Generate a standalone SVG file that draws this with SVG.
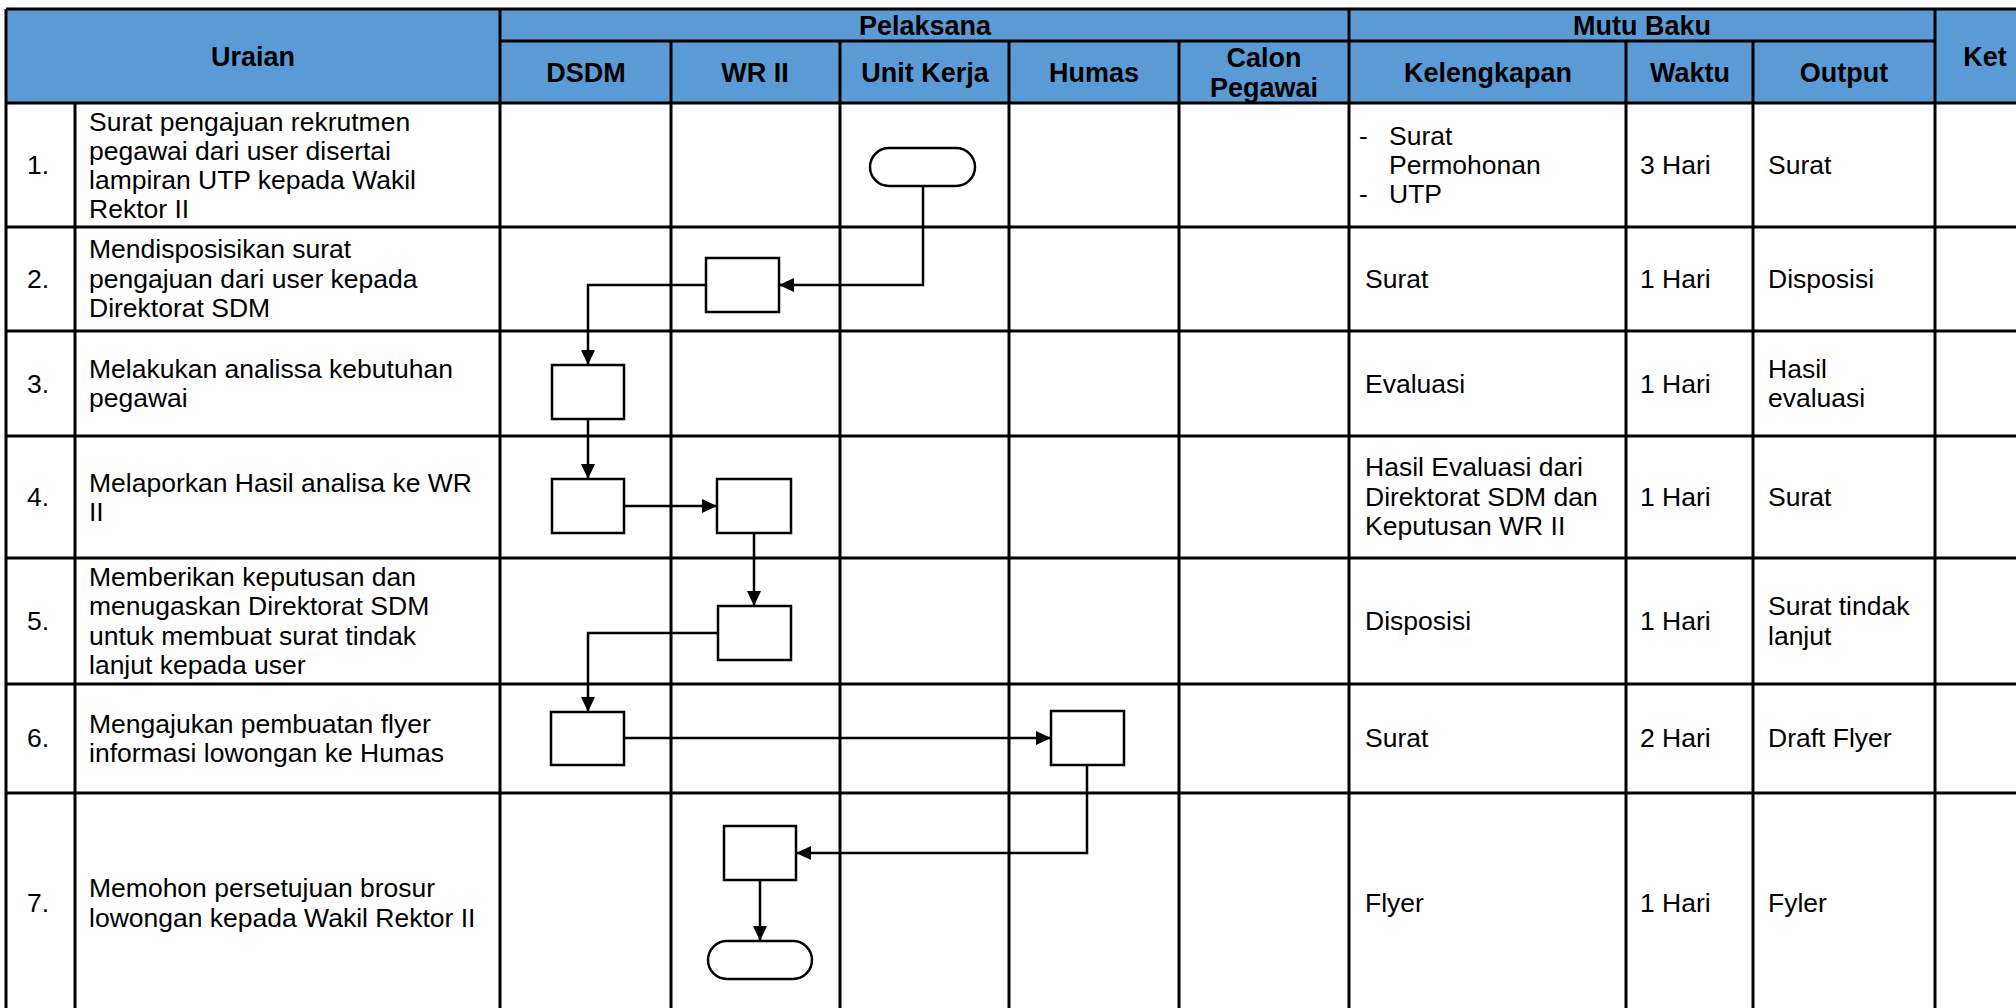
<svg xmlns="http://www.w3.org/2000/svg" width="2016" height="1008" viewBox="0 0 2016 1008">
<style>
.grid{stroke:#000;stroke-width:3;fill:none}
.hdr{fill:#5B9BD5}
.th{font-family:"Liberation Sans",Arial,sans-serif;font-size:27px;font-weight:bold;fill:#000;text-anchor:middle}
.td{font-family:"Liberation Sans",Arial,sans-serif;font-size:26.5px;fill:#000}
.box{fill:#fff;stroke:#000;stroke-width:2.5}
.con{fill:none;stroke:#000;stroke-width:2.5}
</style>
<defs>
<marker id="arr" markerUnits="userSpaceOnUse" markerWidth="15" markerHeight="14" refX="15" refY="7" orient="auto">
<path d="M0,0 L15,7 L0,14 z" fill="#000"/>
</marker>
</defs>
<rect width="2016" height="1008" fill="#fff"/>
<g id="table">
<rect class="hdr" x="6" y="9" width="2030" height="94"/>
<path class="grid" d="M6,9 H2036 M500,41 H1935 M6,103 H2036 M6,227 H2036 M6,331 H2036 M6,436 H2036 M6,558 H2036 M6,684 H2036 M6,793 H2036"/>
<path class="grid" d="M6,9 V1015 M75,103 V1015 M500,9 V1015 M671,41 V1015 M840,41 V1015 M1009,41 V1015 M1179,41 V1015 M1349,9 V1015 M1626,41 V1015 M1753,41 V1015 M1935,9 V1015"/>
<text class="th" x="253" y="66">Uraian</text>
<text class="th" x="925" y="35">Pelaksana</text>
<text class="th" x="1642" y="35">Mutu Baku</text>
<text class="th" x="1985" y="66">Ket</text>
<text class="th" x="586" y="82">DSDM</text>
<text class="th" x="755" y="82">WR II</text>
<text class="th" x="925" y="82">Unit Kerja</text>
<text class="th" x="1094" y="82">Humas</text>
<text class="th" x="1264" y="67">Calon</text>
<text class="th" x="1264" y="97">Pegawai</text>
<text class="th" x="1488" y="82">Kelengkapan</text>
<text class="th" x="1690" y="82">Waktu</text>
<text class="th" x="1844" y="82">Output</text>
</g>
<g id="uraian">
<text class="td" x="27" y="174">1.</text>
<text class="td" x="89" y="131">Surat pengajuan rekrutmen</text>
<text class="td" x="89" y="160">pegawai dari user disertai</text>
<text class="td" x="89" y="189">lampiran UTP kepada Wakil</text>
<text class="td" x="89" y="218">Rektor II</text>
<text class="td" x="27" y="288">2.</text>
<text class="td" x="89" y="258">Mendisposisikan surat</text>
<text class="td" x="89" y="288">pengajuan dari user kepada</text>
<text class="td" x="89" y="317">Direktorat SDM</text>
<text class="td" x="27" y="393">3.</text>
<text class="td" x="89" y="378">Melakukan analissa kebutuhan</text>
<text class="td" x="89" y="407">pegawai</text>
<text class="td" x="27" y="506">4.</text>
<text class="td" x="89" y="492">Melaporkan Hasil analisa ke WR</text>
<text class="td" x="89" y="521">II</text>
<text class="td" x="27" y="630">5.</text>
<text class="td" x="89" y="586">Memberikan keputusan dan</text>
<text class="td" x="89" y="615">menugaskan Direktorat SDM</text>
<text class="td" x="89" y="645">untuk membuat surat tindak</text>
<text class="td" x="89" y="674">lanjut kepada user</text>
<text class="td" x="27" y="747">6.</text>
<text class="td" x="89" y="733">Mengajukan pembuatan flyer</text>
<text class="td" x="89" y="762">informasi lowongan ke Humas</text>
<text class="td" x="27" y="912">7.</text>
<text class="td" x="89" y="897">Memohon persetujuan brosur</text>
<text class="td" x="89" y="927">lowongan kepada Wakil Rektor II</text>
</g>
<g id="mutu">
<text class="td" x="1359" y="145">-</text>
<text class="td" x="1389" y="145">Surat</text>
<text class="td" x="1389" y="174">Permohonan</text>
<text class="td" x="1359" y="203">-</text>
<text class="td" x="1389" y="203">UTP</text>
<text class="td" x="1640" y="174">3 Hari</text>
<text class="td" x="1768" y="174">Surat</text>
<text class="td" x="1365" y="288">Surat</text>
<text class="td" x="1640" y="288">1 Hari</text>
<text class="td" x="1768" y="288">Disposisi</text>
<text class="td" x="1365" y="393">Evaluasi</text>
<text class="td" x="1640" y="393">1 Hari</text>
<text class="td" x="1768" y="378">Hasil</text>
<text class="td" x="1768" y="407">evaluasi</text>
<text class="td" x="1365" y="476">Hasil Evaluasi dari</text>
<text class="td" x="1365" y="506">Direktorat SDM dan</text>
<text class="td" x="1365" y="535">Keputusan WR II</text>
<text class="td" x="1640" y="506">1 Hari</text>
<text class="td" x="1768" y="506">Surat</text>
<text class="td" x="1365" y="630">Disposisi</text>
<text class="td" x="1640" y="630">1 Hari</text>
<text class="td" x="1768" y="615">Surat tindak</text>
<text class="td" x="1768" y="645">lanjut</text>
<text class="td" x="1365" y="747">Surat</text>
<text class="td" x="1640" y="747">2 Hari</text>
<text class="td" x="1768" y="747">Draft Flyer</text>
<text class="td" x="1365" y="912">Flyer</text>
<text class="td" x="1640" y="912">1 Hari</text>
<text class="td" x="1768" y="912">Fyler</text>
</g>
<g id="connectors">
<path class="con" d="M923,186 V285 H779" marker-end="url(#arr)"/>
<path class="con" d="M706,285 H588 V365" marker-end="url(#arr)"/>
<path class="con" d="M588,419 V479" marker-end="url(#arr)"/>
<path class="con" d="M624,506 H717" marker-end="url(#arr)"/>
<path class="con" d="M754,533 V606" marker-end="url(#arr)"/>
<path class="con" d="M718,633 H588 V712" marker-end="url(#arr)"/>
<path class="con" d="M624,738 H1051" marker-end="url(#arr)"/>
<path class="con" d="M1087,765 V853 H796" marker-end="url(#arr)"/>
<path class="con" d="M760,880 V941" marker-end="url(#arr)"/>
</g>
<g id="n1-start"><rect class="box" x="870" y="148" width="105" height="38" rx="19"/></g>
<g id="n2-wr"><rect class="box" x="706" y="258" width="73" height="54"/></g>
<g id="n3-dsdm"><rect class="box" x="552" y="365" width="72" height="54"/></g>
<g id="n4-dsdm"><rect class="box" x="552" y="479" width="72" height="54"/></g>
<g id="n4-wr"><rect class="box" x="717" y="479" width="74" height="54"/></g>
<g id="n5-wr"><rect class="box" x="718" y="606" width="73" height="54"/></g>
<g id="n6-dsdm"><rect class="box" x="551" y="712" width="73" height="53"/></g>
<g id="n6-humas"><rect class="box" x="1051" y="711" width="73" height="54"/></g>
<g id="n7-wr"><rect class="box" x="724" y="826" width="72" height="54"/></g>
<g id="n7-end"><rect class="box" x="708" y="941" width="104" height="38" rx="19"/></g>
</svg>
